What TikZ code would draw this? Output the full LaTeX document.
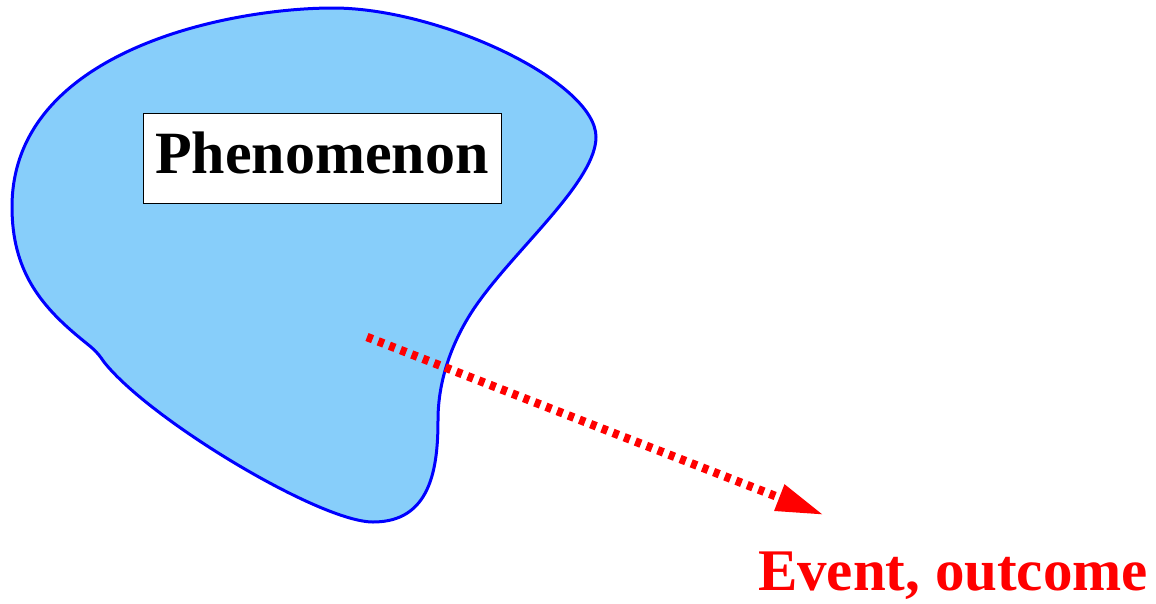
\documentclass[tikz,border=0pt]{standalone}
\usepackage{fontspec}
\setmainfont{Liberation Serif}
\usetikzlibrary{arrows.meta}
\definecolor{blobfill}{RGB}{135,206,250}
\definecolor{blobline}{RGB}{0,0,255}
\definecolor{evred}{RGB}{255,0,0}
\tikzset{
  blob/.style={fill=blobfill, draw=blobline, line width=3pt},
  labelbox/.style={draw=black, fill=white, line width=1pt, minimum width=358pt, minimum height=90pt, inner sep=0pt, text height=45pt, text depth=15pt, font=\fontsize{60}{72}\selectfont\bfseries},
  eventlabel/.style={text=evred, anchor=base, inner sep=0pt, font=\fontsize{59}{70}\selectfont\bfseries},
  evarrow/.style={draw=evred, line width=8.5pt, dash pattern=on 6pt off 6pt, -{Triangle[length=48pt,width=26pt]}}
}
\begin{document}
\begin{tikzpicture}[x=1pt,y=-1pt]
\useasboundingbox (0,0) rectangle (1156,603);
\path[blob] (333,8)
  .. controls (440,8) and (596,82) .. (596,137)
  .. controls (596,180) and (520,245) .. (480,300)
  .. controls (460,327) and (438,370) .. (438,420)
  .. controls (438,470) and (430,522) .. (373,522)
  .. controls (320,522) and (150,420) .. (104,362)
  .. controls (96,350) and (92,348) .. (80,338)
  .. controls (40,305) and (12,270) .. (12,207)
  .. controls (12,50) and (230,8) .. (333,8) -- cycle;
\node[labelbox] (phen) at (322,158) {Phenomenon};
\coordinate (src) at (367,337);
\coordinate (tip) at (824,515);
\draw[evarrow] (src) -- (tip);
\node[eventlabel] (event) at (953,590) {Event, outcome};
\end{tikzpicture}
\end{document}
